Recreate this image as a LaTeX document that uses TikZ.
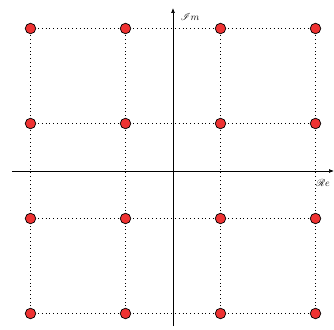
\documentclass[tikz,border=0pt]{standalone}
\usepackage{mathrsfs}
\usetikzlibrary{arrows.meta}
\definecolor{ptred}{RGB}{238,50,50}
\begin{document}
\begin{tikzpicture}[x=1pt,y=1pt,
  pt/.style={circle,draw=black,fill=ptred,line width=0.7pt,minimum size=10.5pt,inner sep=0pt},
  grid/.style={line width=0.6pt,dash pattern=on 0.6pt off 3.2pt},
  axis/.style={-{Latex[length=5pt,width=4pt]},line width=0.7pt}]
\useasboundingbox (-173,-158) rectangle (161,171);
\foreach \i/\x in {0/-142.5,1/-47.5,2/47.5,3/142.5}{
  \foreach \j/\y in {0/-142.5,1/-47.5,2/47.5,3/142.5}{
    \coordinate (c\i\j) at (\x,\y);
  }
}
\foreach \i in {0,1,2,3}{
  \draw[grid] (c\i0) -- (c\i1) -- (c\i2) -- (c\i3);
  \draw[grid] (c0\i) -- (c1\i) -- (c2\i) -- (c3\i);
}
\coordinate (xs) at (-161,0);
\coordinate (xe) at (161,0);
\coordinate (ys) at (0,-155);
\coordinate (ye) at (0,163);
\draw[axis] (xs) -- (xe);
\draw[axis] (ys) -- (ye);
\node (im) at (17,154) {$\mathscr{I}m$};
\node (re) at (150,-12) {$\mathscr{R}e$};
\foreach \i in {0,1,2,3}{
  \foreach \j in {0,1,2,3}{
    \node[pt] (p\i\j) at (c\i\j) {};
  }
}
\end{tikzpicture}
\end{document}
